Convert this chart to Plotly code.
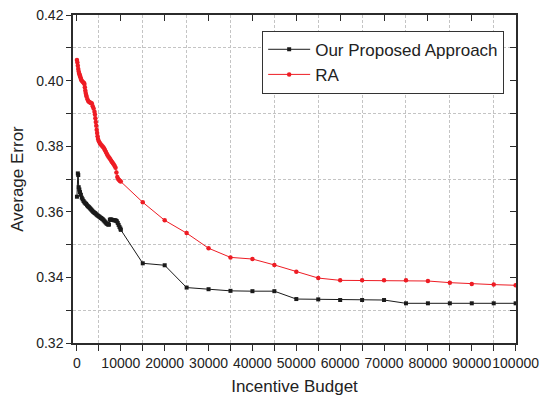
import plotly.graph_objects as go

# ---- data ----
ours_x = [0, 200, 300, 400, 550, 700, 900, 1100, 1300, 1500, 1700, 1900, 2100, 2300, 2500,
          2700, 2900, 3100, 3300, 3500, 3700, 3900, 4100, 4300, 4500, 4700, 4900, 5100, 5300,
          5500, 5700, 5900, 6100, 6300, 6500, 6700, 6900, 7100, 7300, 7500, 7700, 7900, 8100,
          8300, 8500, 8700, 8900, 9100, 9300, 9500, 9700, 9900, 10000,
          15000, 20000, 25000, 30000, 35000, 40000, 45000, 50000, 55000, 60000, 65000, 70000,
          75000, 80000, 85000, 90000, 95000, 100000]
ours_y = [0.3646, 0.3717, 0.3712, 0.3675, 0.3668, 0.3660, 0.3652, 0.3643, 0.3638, 0.3633,
          0.3629, 0.3626, 0.3624, 0.3620, 0.3617, 0.3615, 0.3612, 0.3609, 0.3606, 0.3603,
          0.3600, 0.3598, 0.3596, 0.3594, 0.3591, 0.3589, 0.3587, 0.3585, 0.3583, 0.3581,
          0.3579, 0.3577, 0.3574, 0.3571, 0.3568, 0.3565, 0.3563, 0.3561, 0.3561, 0.3576,
          0.3577, 0.3576, 0.3575, 0.3575, 0.3574, 0.3574, 0.3573, 0.3571, 0.3566, 0.3560,
          0.3554, 0.3549, 0.3545,
          0.3443, 0.3437, 0.3369, 0.3364, 0.3359, 0.3358, 0.3358, 0.3334, 0.3333, 0.3331,
          0.3331, 0.3331, 0.3321, 0.3321, 0.3321, 0.3321, 0.3321, 0.3321]

ra_x = [0, 100, 200, 300, 400, 500, 600, 700, 800, 900, 1000, 1200, 1400, 1600, 1700, 1800,
        1900, 2000, 2100, 2200, 2400, 2600, 2800, 3000, 3200, 3400, 3600, 3800, 4000, 4100,
        4200, 4300, 4400, 4500, 4600, 4700, 4800, 5000, 5200, 5400, 5600, 5800, 6000, 6200,
        6400, 6600, 6800, 7000, 7200, 7400, 7600, 7800, 8000, 8200, 8400, 8600, 8800, 9000,
        9200, 9400, 9600, 9800, 10000,
        15000, 20000, 25000, 30000, 35000, 40000, 45000, 50000, 55000, 60000, 65000, 70000,
        75000, 80000, 85000, 90000, 95000, 100000]
ra_y = [0.4063, 0.4055, 0.4045, 0.4035, 0.4028, 0.4022, 0.4018, 0.4014, 0.4010, 0.4005,
        0.4002, 0.3998, 0.3995, 0.3993, 0.3990, 0.3980, 0.3970, 0.3962, 0.3956, 0.3951,
        0.3943, 0.3937, 0.3935, 0.3933, 0.3932, 0.3930, 0.3922, 0.3915, 0.3905, 0.3897,
        0.3885, 0.3874, 0.3862, 0.3850, 0.3840, 0.3830, 0.3822, 0.3815, 0.3810, 0.3806,
        0.3803, 0.3800, 0.3797, 0.3793, 0.3788, 0.3782, 0.3777, 0.3772, 0.3768, 0.3764,
        0.3760, 0.3756, 0.3752, 0.3748, 0.3744, 0.3740, 0.3734, 0.3720, 0.3706, 0.3700,
        0.3697, 0.3694, 0.3692,
        0.3629, 0.3574, 0.3535, 0.3489, 0.3461, 0.3456, 0.3438, 0.3417, 0.3398, 0.3391,
        0.3391, 0.3391, 0.3391, 0.3389, 0.3384, 0.3380, 0.3378, 0.3376]

FONT = "Liberation Sans, Arial, sans-serif"
AX = "#2b2b2b"
GRID = "#c4c4c4"
XR = [-900, 100080]
YR = [0.32, 0.42]

fig = go.Figure()
# invisible helper traces so the overlay axes (grid / inside ticks) get drawn
fig.add_trace(go.Scatter(
    x=[ra_x[-1]], y=[ra_y[-1]], xaxis="x3", yaxis="y3", mode="markers",
    marker=dict(opacity=0), showlegend=False, hoverinfo="skip",
))
fig.add_trace(go.Scatter(
    x=[ra_x[-1]], y=[ra_y[-1]], xaxis="x2", yaxis="y2", mode="markers",
    marker=dict(opacity=0), showlegend=False, hoverinfo="skip",
))
fig.add_trace(go.Scatter(
    x=ours_x, y=ours_y, mode="lines+markers", name="Our Proposed Approach",
    line=dict(color="#1a1a1a", width=1),
    marker=dict(symbol="square", size=4, color="#1a1a1a"),
))
fig.add_trace(go.Scatter(
    x=ra_x, y=ra_y, mode="lines+markers", name="RA",
    line=dict(color="#ee1c24", width=1),
    marker=dict(symbol="circle", size=4.5, color="#ee1c24"),
))

fig.update_layout(
    width=541, height=396,
    margin=dict(l=73, r=25, t=15, b=53),
    paper_bgcolor="white", plot_bgcolor="white",
    font=dict(family=FONT, size=14, color="#222"),
    showlegend=True,
    legend=dict(
        x=0.427, y=0.952, xanchor="left", yanchor="top",
        bgcolor="white", bordercolor="#333", borderwidth=1,
        font=dict(family=FONT, size=17, color="#222"),
        itemwidth=42, tracegroupgap=0,
    ),
    xaxis=dict(
        range=XR, showgrid=False, zeroline=False, automargin=False,
        tickmode="linear", tick0=0, dtick=10000, tickangle=0, tickformat="d",
        ticks="outside", ticklen=6, tickcolor=AX, tickwidth=1,
        showline=True, linecolor=AX, linewidth=1.5, mirror=True,
        tickfont=dict(size=14, family=FONT, color="#222"),
        minor=dict(dtick=5000, tick0=0, ticks="outside", ticklen=6, tickcolor=AX,
                   showgrid=False),
        title=dict(text="Incentive Budget", font=dict(size=17, family=FONT, color="#222"),
                   standoff=12),
    ),
    yaxis=dict(
        range=YR, showgrid=False, zeroline=False, automargin=False,
        tickmode="linear", tick0=0.32, dtick=0.02, tickformat=".2f",
        ticks="outside", ticklen=5, tickcolor=AX, tickwidth=1,
        showline=True, linecolor=AX, linewidth=1.5, mirror=True,
        tickfont=dict(size=14, family=FONT, color="#222"),
        minor=dict(dtick=0.01, tick0=0.32, ticks="outside", ticklen=5, tickcolor=AX,
                   showgrid=False),
        title=dict(text="Average Error", font=dict(size=17, family=FONT, color="#222"),
                   standoff=8),
    ),
    xaxis2=dict(
        overlaying="x", side="top", range=XR, showgrid=False, zeroline=False,
        automargin=False,
        tickmode="linear", tick0=0, dtick=10000, showticklabels=False,
        ticks="inside", ticklen=6, tickcolor=AX, tickwidth=1, showline=False,
    ),
    yaxis2=dict(
        overlaying="y", side="right", range=YR, showgrid=False, zeroline=False,
        automargin=False,
        tickmode="linear", tick0=0.32, dtick=0.01, showticklabels=False,
        ticks="inside", ticklen=6, tickcolor=AX, tickwidth=1, showline=False,
    ),
    xaxis3=dict(
        overlaying="x", range=XR, zeroline=False, automargin=False,
        tickmode="linear", tick0=5000, dtick=10000, showticklabels=False, ticks="",
        showgrid=True, gridcolor=GRID, griddash="3px,2px", gridwidth=1, showline=False,
    ),
    yaxis3=dict(
        overlaying="y", range=YR, zeroline=False, automargin=False,
        tickmode="linear", tick0=0.33, dtick=0.02, showticklabels=False, ticks="",
        showgrid=True, gridcolor=GRID, griddash="3px,2px", gridwidth=1, showline=False,
    ),
)

fig.write_html("out.html")
